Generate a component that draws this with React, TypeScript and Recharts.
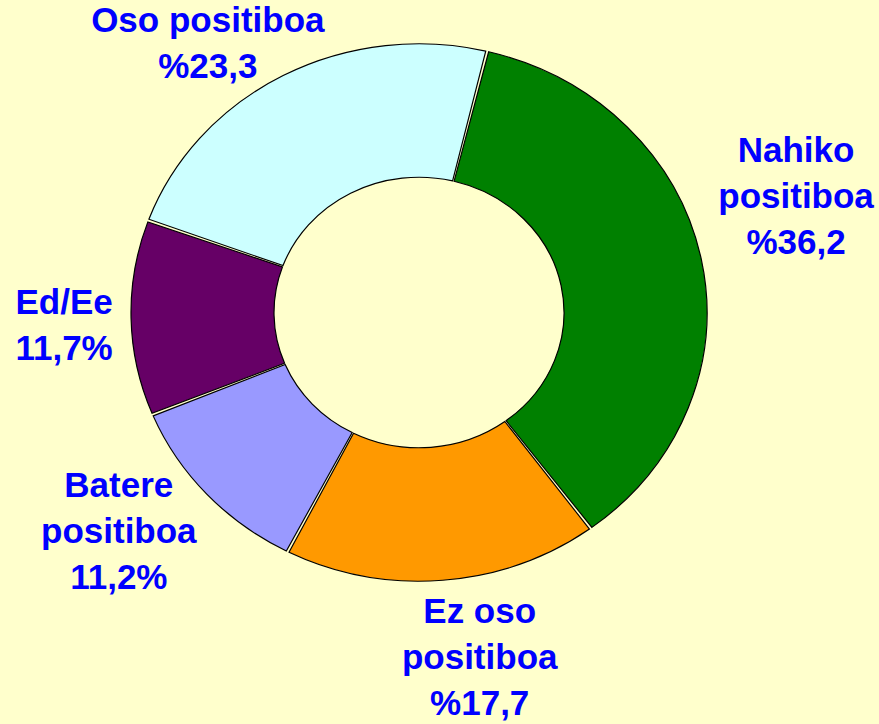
import React from "react";
import { PieChart, Pie, Cell } from "recharts";

const categories = ["Nahiko positiboa", "Ez oso positiboa", "Batere positiboa", "Ed/Ee", "Oso positiboa"];
const values = [36.2, 17.7, 11.2, 11.7, 23.3];
const labelLines = [
  ["Nahiko", "positiboa", "%36,2"],
  ["Ez oso", "positiboa", "%17,7"],
  ["Batere", "positiboa", "11,2%"],
  ["Ed/Ee", "11,7%"],
  ["Oso positiboa", "%23,3"],
];
const colors = ["#008000", "#FF9900", "#9999FF", "#660066", "#CCFFFF"];

const W = 879;
const H = 724;
const CX = 419;
const CY = 312.5;
const OUTER = 288;
const INNER = 145;
const SQUASH = 0.933;
const LABEL_R = OUTER + 60;
const LABEL_NUDGE = [
  [36, -52],
  [32, 21],
  [-44, -1],
  [-7, 6],
  [-47, 17],
];
const LINE_H = 46;
const RAD = Math.PI / 180;
const BG = "#FFFFCC";

const data = categories.map((name, i) => ({ name, value: values[i] }));

function renderLabel(props: any) {
  const { cx, cy, midAngle, index } = props;
  const bx = cx + LABEL_R * Math.cos(-midAngle * RAD);
  const by = cy + LABEL_R * Math.sin(-midAngle * RAD) * SQUASH;
  const [nx, ny] = LABEL_NUDGE[index];
  const x = bx + nx;
  const y = by + ny;
  const lines = labelLines[index];
  const n = lines.length;
  return (
    <text
      key={`lbl-${index}`}
      x={x}
      y={y}
      textAnchor="middle"
      fill="#0000FF"
      style={{ fontFamily: "'Liberation Sans', Arial, sans-serif", fontWeight: 700, fontSize: 35 }}
    >
      {lines.map((t, k) => (
        <tspan key={k} x={x} y={y + 12 + (k - (n - 1) / 2) * LINE_H}>
          {t}
        </tspan>
      ))}
    </text>
  );
}

export default function App() {
  const css = `.donut-wrap path.recharts-sector { transform-origin: ${CX}px ${CY}px; transform: scaleY(${SQUASH}); }
  .donut-wrap svg:focus, .donut-wrap *:focus { outline: none; }`;
  return (
    <div
      className="donut-wrap"
      style={{ position: "fixed", left: 0, top: 0, width: W, height: H, background: BG }}
    >
      <style>{css}</style>
      <PieChart width={W} height={H} margin={{ top: 0, right: 0, bottom: 0, left: 0 }}>
        <Pie
          data={data}
          dataKey="value"
          nameKey="name"
          cx={CX}
          cy={CY}
          outerRadius={OUTER}
          innerRadius={INNER}
          startAngle={76}
          endAngle={-284}
          paddingAngle={0.6}
          stroke="#000000"
          strokeWidth={1.2}
          label={renderLabel}
          labelLine={false}
          isAnimationActive={false}
        >
          {data.map((d, i) => (
            <Cell key={d.name} fill={colors[i]} />
          ))}
        </Pie>
      </PieChart>
    </div>
  );
}
